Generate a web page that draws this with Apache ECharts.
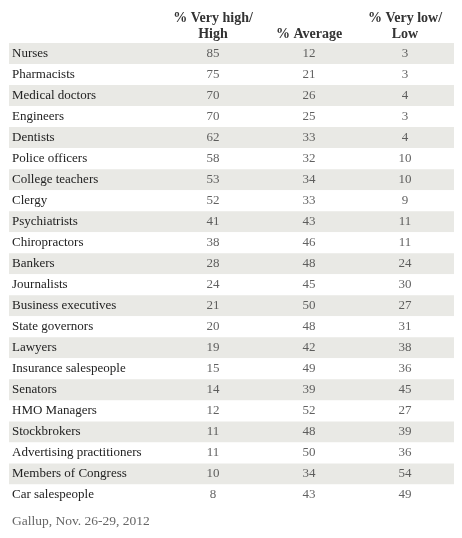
<!DOCTYPE html>
<html>
<head>
<meta charset="utf-8">
<script src="https://cdn.jsdelivr.net/npm/echarts@6/dist/echarts.min.js"></script>
<style>
html,body{margin:0;padding:0;background:#fff;}
#chart{width:462px;height:538px;}
</style>
</head>
<body>
<div id="chart"></div>
<script>
const occupations = ["Nurses","Pharmacists","Medical doctors","Engineers","Dentists","Police officers","College teachers","Clergy","Psychiatrists","Chiropractors","Bankers","Journalists","Business executives","State governors","Lawyers","Insurance salespeople","Senators","HMO Managers","Stockbrokers","Advertising practitioners","Members of Congress","Car salespeople"];
const columnHeaders = ["% Very high/\nHigh","% Average","% Very low/\nLow"];
const veryHighHigh = [85,75,70,70,62,58,53,52,41,38,28,24,21,20,19,15,14,12,11,11,10,8];
const average = [12,21,26,25,33,32,34,33,43,46,48,45,50,48,42,49,39,52,48,50,34,43];
const veryLowLow = [3,3,4,3,4,10,10,9,11,11,24,30,27,31,38,36,45,27,39,36,54,49];
const sourceNote = "Gallup, Nov. 26-29, 2012";

const FONT = "'Liberation Serif', 'DejaVu Serif', serif";
const columns = [veryHighHigh, average, veryLowLow];

const chart = echarts.init(document.getElementById('chart'), null, {renderer:'canvas'});
const valueSeries = columns.map((vals, c) => ({
  type: 'scatter',
  xAxisIndex: 1,
  yAxisIndex: 1,
  symbolSize: 1,
  itemStyle: {color: 'rgba(0,0,0,0)'},
  silent: true,
  data: occupations.map((name, i) => [columnHeaders[c], name, vals[i]]),
  label: {
    show: true,
    position: 'inside',
    formatter: p => String(p.value[2]),
    fontFamily: FONT,
    fontSize: 13,
    color: '#3a3a3a'
  }
}));

chart.setOption({
  backgroundColor: '#ffffff',
  animation: false,
  title: {
    text: sourceNote,
    left: 12,
    top: 514,
    padding: 0,
    textStyle: {fontFamily: FONT, fontSize: 13.5, fontWeight: 'normal', color: '#666666'}
  },
  grid: [
    {left: 9, right: 8, top: 43, bottom: 32.5},
    {left: 165, right: 9, top: 43, bottom: 32.5}
  ],
  xAxis: [
    {gridIndex: 0, type: 'value', min: 0, max: 1, show: false},
    {
      gridIndex: 1, type: 'category', data: columnHeaders, position: 'top',
      axisLine: {show: false}, axisTick: {show: false},
      axisLabel: {interval: 0, margin: 1, fontFamily: FONT, fontSize: 14, fontWeight: 'bold', color: '#333', lineHeight: 16}
    }
  ],
  yAxis: [
    {
      gridIndex: 0, type: 'category', data: occupations, inverse: true,
      axisLine: {show: false}, axisTick: {show: false},
      splitLine: {show: false},
      splitArea: {show: true, areaStyle: {color: ['#e9e9e5', '#ffffff']}},
      axisLabel: {inside: true, margin: 3, interval: 0, fontFamily: FONT, fontSize: 13, color: '#222222'}
    },
    {gridIndex: 1, type: 'category', data: occupations, inverse: true, show: false}
  ],
  series: [
    {type: 'scatter', xAxisIndex: 0, yAxisIndex: 0, data: [], silent: true}
  ].concat(valueSeries)
});
</script>
</body>
</html>
